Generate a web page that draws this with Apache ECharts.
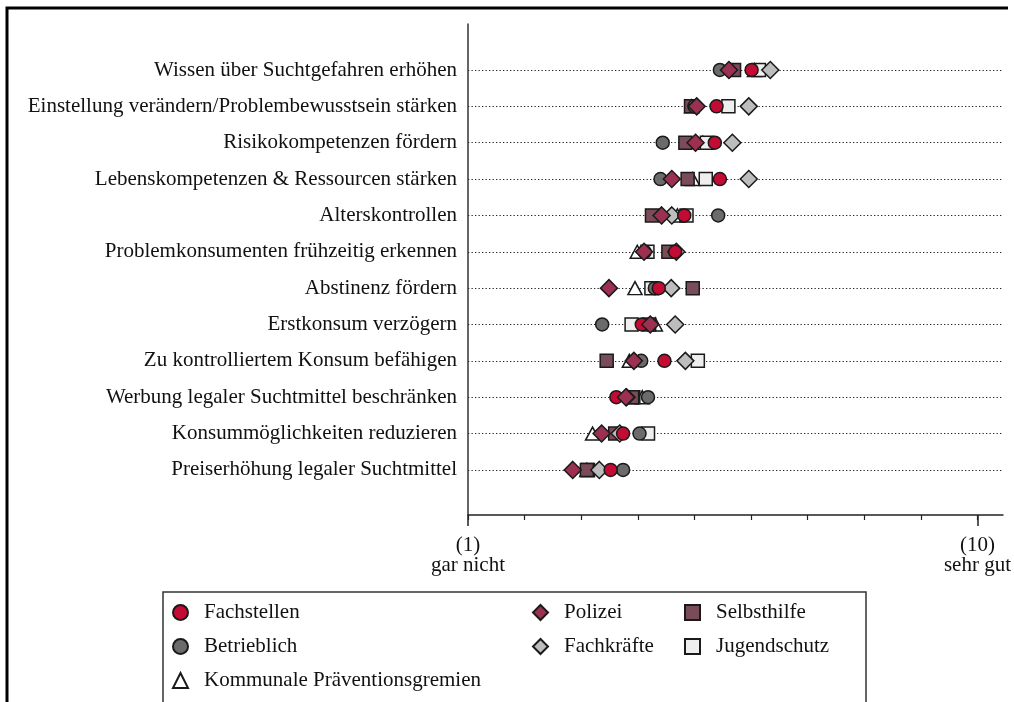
<!DOCTYPE html>
<html>
<head>
<meta charset="utf-8">
<script src="https://cdn.jsdelivr.net/npm/echarts@6/dist/echarts.min.js"></script>
<style>
  html, body { margin: 0; padding: 0; background: #fff; }
  #chart { width: 1014px; height: 702px; }
</style>
</head>
<body>
<div id="chart"></div>
<script>
// Kategorien (von oben nach unten)
const categories = [
  'Wissen über Suchtgefahren erhöhen',
  'Einstellung verändern/Problembewusstsein stärken',
  'Risikokompetenzen fördern',
  'Lebenskompetenzen & Ressourcen stärken',
  'Alterskontrollen',
  'Problemkonsumenten frühzeitig erkennen',
  'Abstinenz fördern',
  'Erstkonsum verzögern',
  'Zu kontrolliertem Konsum befähigen',
  'Werbung legaler Suchtmittel beschränken',
  'Konsummöglichkeiten reduzieren',
  'Preiserhöhung legaler Suchtmittel'
]

// Mittelwerte je Gruppe (Skala 1 bis 10)
const fachstellen   = [6.01, 5.39, 5.36, 5.45, 4.82, 4.66, 4.37, 4.07, 4.47, 3.62, 3.74, 3.52]
const betrieblich   = [5.45, 5.00, 4.44, 4.40, 5.42, 4.12, 4.30, 3.37, 4.06, 4.18, 4.03, 3.74]
const kommunale     = [6.06, 4.95, 5.15, 4.97, 4.70, 3.99, 3.95, 4.31, 3.85, 4.08, 3.20, 3.10]
const polizei       = [5.61, 5.04, 5.02, 4.60, 4.42, 4.11, 3.49, 4.22, 3.93, 3.79, 3.36, 2.85]
const fachkraefte   = [6.34, 5.96, 5.67, 5.96, 4.60, 4.68, 4.59, 4.66, 4.84, 3.80, 3.68, 3.32]
const selbsthilfe   = [5.70, 4.94, 4.84, 4.88, 4.25, 4.54, 4.97, 4.20, 3.45, 3.90, 3.60, 3.10]
const jugendschutz  = [6.14, 5.60, 5.22, 5.20, 4.86, 4.17, 4.24, 3.89, 5.06, 3.92, 4.18, 3.12]

// Achsenbeschriftung
const xTicks = [1, 2, 3, 4, 5, 6, 7, 8, 9, 10]
const xLabelTicks = [1, 10]
const xLabels = { 1: '(1)\ngar nicht', 10: '(10)\nsehr gut' }

const font = "'Liberation Serif', 'DejaVu Serif', serif"
const rows = categories.map((c, i) => i)

const makeSeries = (name, values, symbol, size, color) => ({
  name,
  type: 'scatter',
  symbol,
  symbolSize: size,
  data: values.map((v, i) => [v, i]),
  itemStyle: { color, borderColor: '#1a1a1a', borderWidth: 1.5, opacity: 1 },
  emphasis: { disabled: true }
})

const chart = echarts.init(document.getElementById('chart'))

const legendBase = {
  orient: 'vertical',
  top: 602,
  padding: 0,
  itemWidth: 15,
  itemHeight: 15,
  itemGap: 13,
  selectedMode: false,
  textStyle: { fontFamily: font, fontSize: 21, color: '#111', lineHeight: 20, padding: [0, 0, 0, 11] }
}

const option = {
  animation: false,
  backgroundColor: '#fff',
  grid: { left: 468, right: 7, top: 24, bottom: 187 },
  xAxis: [
    {
      type: 'value',
      min: 1,
      max: 10.45,
      position: 'bottom',
      axisLine: { show: true, onZero: false, lineStyle: { color: '#222', width: 1.5 } },
      axisTick: { show: true, customValues: xTicks, length: 5, lineStyle: { color: '#222', width: 1.2 } },
      axisLabel: { show: false },
      splitLine: { show: false }
    },
    {
      type: 'value',
      min: 1,
      max: 10.45,
      position: 'bottom',
      offset: 0,
      axisLine: { show: false, onZero: false },
      axisTick: { show: true, customValues: xLabelTicks, length: 11, lineStyle: { color: '#222', width: 1.5 } },
      axisLabel: {
        show: true,
        customValues: xLabelTicks,
        margin: 20,
        fontFamily: font,
        fontSize: 21,
        lineHeight: 20,
        color: '#111',
        align: 'center',
        formatter: (v) => xLabels[v] || ''
      },
      splitLine: { show: false }
    }
  ],
  yAxis: {
    type: 'value',
    inverse: true,
    min: -1.265,
    max: 12.24,
    axisLine: { show: true, lineStyle: { color: '#333', width: 1.5 } },
    axisTick: { show: false, customValues: rows },
    axisLabel: {
      customValues: rows,
      margin: 11,
      fontFamily: font,
      fontSize: 21,
      color: '#111',
      formatter: (v) => categories[v] || ''
    },
    splitLine: { show: true, lineStyle: { color: '#222', width: 1.2, type: [1.3, 2.2] } }
  },
  legend: [
    Object.assign({}, legendBase, { left: 172, data: ['Fachstellen', 'Betrieblich', 'Kommunale Präventionsgremien'] }),
    Object.assign({}, legendBase, { left: 532, data: ['Polizei', 'Fachkräfte'] }),
    Object.assign({}, legendBase, { left: 684, data: ['Selbsthilfe', 'Jugendschutz'] })
  ],
  graphic: [
    // Rahmen der Abbildung
    { type: 'polyline', silent: true, shape: { points: [[7, 702], [7, 8], [1008, 8]] }, style: { stroke: '#000', lineWidth: 3, fill: null } },
    // Rahmen der Legende
    { type: 'rect', silent: true, shape: { x: 163, y: 592, width: 703, height: 130 }, style: { stroke: '#333', lineWidth: 1.5, fill: null } }
  ],
  series: [
    makeSeries('Kommunale Präventionsgremien', kommunale, 'triangle', [14, 13], '#ffffff'),
    makeSeries('Jugendschutz', jugendschutz, 'rect', 13, '#eeeeee'),
    makeSeries('Selbsthilfe', selbsthilfe, 'rect', 13, '#7a4b58'),
    makeSeries('Betrieblich', betrieblich, 'circle', 13, '#6b6b6b'),
    makeSeries('Fachkräfte', fachkraefte, 'diamond', 17, '#bdbdbd'),
    makeSeries('Fachstellen', fachstellen, 'circle', 13, '#c40b33'),
    makeSeries('Polizei', polizei, 'diamond', 17, '#9c3050')
  ]
}

chart.setOption(option)
</script>
</body>
</html>
